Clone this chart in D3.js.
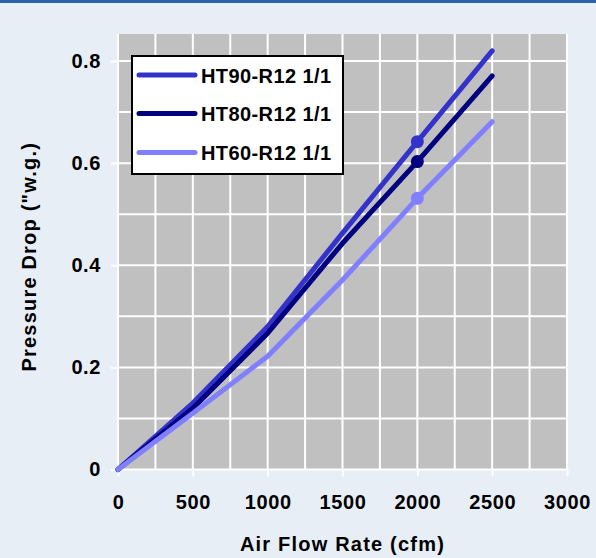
<!DOCTYPE html>
<html><head><meta charset="utf-8">
<script src="https://cdn.jsdelivr.net/npm/d3@7"></script>
<style>
html,body{margin:0;padding:0;background:#e8eef6;}
svg{display:block;font-family:Arial,"Liberation Sans",sans-serif;}
</style></head>
<body>
<svg id="chart" width="596" height="558"></svg>
<script>
const flow = [0, 500, 1000, 1500, 2000, 2500];
const seriesNames = ["HT90-R12 1/1", "HT80-R12 1/1", "HT60-R12 1/1"];
const ht90 = [0, 0.13, 0.28, 0.463, 0.642, 0.82];
const ht80 = [0, 0.12, 0.267, 0.443, 0.603, 0.771];
const ht60 = [0, 0.11, 0.222, 0.371, 0.531, 0.681];
const markerFlow = 2000;
const xTicks = [0, 500, 1000, 1500, 2000, 2500, 3000];
const yTicks = [0, 0.2, 0.4, 0.6, 0.8];
const colors = ["#3333cc", "#000080", "#8080ff"];

const series = [ht90, ht80, ht60];
const svg = d3.select("#chart");
svg.append("rect").attr("width",596).attr("height",558).attr("fill","#e8eef6");
svg.append("rect").attr("width",596).attr("height",3).attr("fill","#2c63ab");

const x = d3.scaleLinear().domain([0,3000]).range([118,567]);
const y = d3.scaleLinear().domain([0,0.8]).range([469.5,61]);
const plotTop = 34;

svg.append("rect").attr("x",x(0)).attr("y",plotTop).attr("width",x(3000)-x(0)).attr("height",y(0)-plotTop).attr("fill","#c0c0c0");

// grid
const g = svg.append("g");
g.selectAll("line.v").data(d3.range(0,3001,250)).join("line")
  .attr("x1",d=>x(d)).attr("x2",d=>x(d)).attr("y1",plotTop).attr("y2",y(0))
  .attr("stroke","#fff").attr("stroke-width",2);
g.selectAll("line.h").data(d3.range(0,9).map(i=>i/10)).join("line")
  .attr("y1",d=>y(d)).attr("y2",d=>y(d)).attr("x1",x(0)).attr("x2",x(3000))
  .attr("stroke","#fff").attr("stroke-width",2);

// axes
const xAxis = d3.axisBottom(x).tickValues(xTicks).tickSize(7).tickPadding(18).tickFormat(d3.format("d"));
const xa = svg.append("g").attr("transform",`translate(0,${y(0)})`).call(xAxis);
const yAxis = d3.axisLeft(y).tickValues(yTicks).tickSize(7).tickPadding(10).tickFormat(d=>d===0?"0":d3.format(".1f")(d));
const ya = svg.append("g").attr("transform",`translate(${x(0)},0)`).call(yAxis);
[xa,ya].forEach(a=>{
  a.select(".domain").remove();
  a.selectAll(".tick line").attr("stroke","#fff").attr("stroke-width",2);
  a.selectAll(".tick text").attr("fill","#000").attr("font-size",20).attr("font-weight","bold")
   .attr("letter-spacing",0.6)
   .attr("font-family","Arial, 'Liberation Sans', sans-serif");
});

// lines
const line = d3.line().x((d,i)=>x(flow[i])).y(d=>y(d));
series.forEach((s,k)=>{
  svg.append("path").datum(s).attr("d",line).attr("fill","none")
    .attr("stroke",colors[k]).attr("stroke-width",5).attr("stroke-linecap","round").attr("stroke-linejoin","round");
});
series.forEach((s,k)=>{
  const i = flow.indexOf(markerFlow);
  svg.append("circle").attr("cx",x(flow[i])).attr("cy",y(s[i])).attr("r",6.5).attr("fill",colors[k]);
});

// legend
const lg = svg.append("g");
lg.append("rect").attr("x",132).attr("y",56).attr("width",211).attr("height",118)
  .attr("fill","#fff").attr("stroke","#000").attr("stroke-width",2);
const ly = [75, 113.5, 152.5];
seriesNames.forEach((n,k)=>{
  lg.append("line").attr("x1",139).attr("x2",195).attr("y1",ly[k]).attr("y2",ly[k])
    .attr("stroke",colors[k]).attr("stroke-width",5).attr("stroke-linecap","round");
  lg.append("text").attr("x",201).attr("y",ly[k]+7.5).text(n)
    .attr("font-size",20).attr("font-weight","bold").attr("letter-spacing",0.4).attr("fill","#000");
});

// titles
svg.append("text").attr("x",(x(0)+x(3000))/2).attr("y",551).attr("text-anchor","middle")
  .attr("font-size",20).attr("font-weight","bold").attr("letter-spacing",1.2).text("Air Flow Rate (cfm)");
svg.append("text").attr("transform",`translate(36,${(plotTop+y(0))/2+5}) rotate(-90)`).attr("text-anchor","middle")
  .attr("font-size",20).attr("font-weight","bold").attr("letter-spacing",1.2).text('Pressure Drop ("w.g.)');
</script>
</body></html>
